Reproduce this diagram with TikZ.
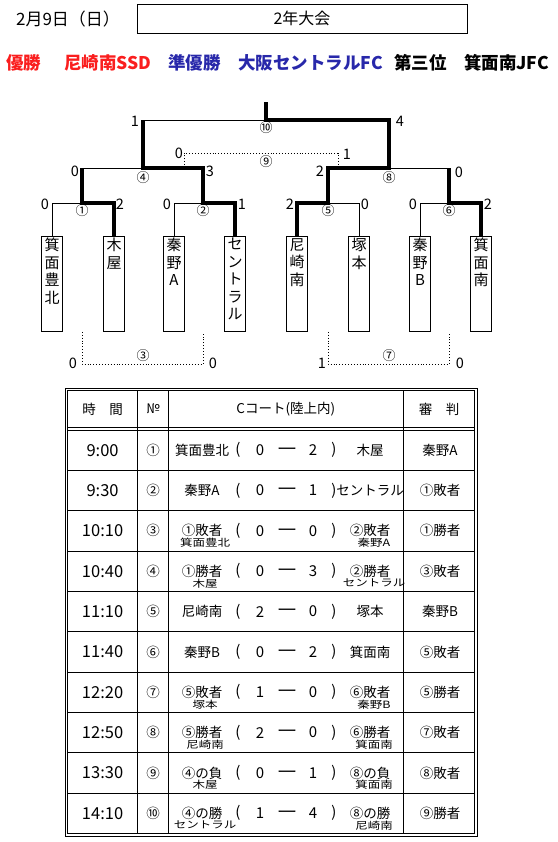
\documentclass[tikz,border=0pt]{standalone}
\usepackage{fontspec}
\setmainfont{Noto Sans CJK JP}
\usetikzlibrary{positioning}
\definecolor{winred}{RGB}{250,30,30}
\definecolor{runnerblue}{RGB}{40,40,170}
\newcommand{\fsz}[1]{\fontsize{#1}{#1}\selectfont}

\begin{document}
\begin{tikzpicture}[x=1pt,y=-1pt,
  score/.style={inner sep=0,font=\fsz{14.5}},
  gameno/.style={inner sep=0,font=\fsz{13}},
  win/.style={line width=4pt},
  lose/.style={line width=0.9pt},
  consol/.style={dotted,line width=0.9pt},
  teambox/.style={draw,line width=0.8pt,minimum width=21pt,minimum height=95pt,anchor=north,inner sep=0},
  teamname/.style={anchor=north,inner sep=0,align=center,font=\fontsize{15}{17.5}\selectfont},
  result/.style={anchor=west,inner sep=0,font=\bfseries\fsz{17.5}},
  cell/.style={inner sep=0,font=\fsz{13.5}},
  goal/.style={inner sep=0,font=\fsz{15}},
  subcell/.style={inner sep=0,font=\fsz{10},xscale=1.25},
  timecell/.style={inner sep=0,font=\fsz{16.5}},
  grid/.style={line width=0.8pt},
]
\useasboundingbox (0,0) rectangle (557,842);

% header
\node[inner sep=0,font=\fsz{17}] (date) at (68,19) {2月9日（日）};
\node[draw,line width=0.8pt,minimum width=330pt,minimum height=29pt,inner sep=0,font=\fsz{16}] (title) at (302,18.5) {2年大会};

% results
\node[result,text=winred] (first) at (6,63) {優勝};
\node[result,text=winred] (firstteam) at (64,63) {尼崎南SSD};
\node[result,text=runnerblue] (second) at (168,63) {準優勝};
\node[result,text=runnerblue] (secondteam) at (238,63) {大阪セントラルFC};
\node[result] (third) at (394,63) {第三位};
\node[result] (thirdteam) at (464,63) {箕面南JFC};

% teams
\foreach \n/\x/\name in {1/52/{箕\\面\\豊\\北},2/114/{木\\屋},3/174/{秦\\野\\A},4/235/{セ\\ン\\ト\\ラ\\ル},
  5/297/{尼\\崎\\南},6/359/{塚\\本},7/420/{秦\\野\\B},8/481/{箕\\面\\南}}{
  \node[teambox] (t\n) at (\x,236) {};
  \node[teamname] (n\n) at ([yshift=-2pt]t\n.north) {\name};
}

% match points
\coordinate (m1) at (82,203);
\coordinate (m2) at (203,203);
\coordinate (m5) at (328,203);
\coordinate (m6) at (449,203);
\coordinate (m4) at (143,168);
\coordinate (m8) at (389,168);
\coordinate (m10) at (266,120);
\coordinate (top) at (266,102);
\coordinate (m9) at (261,153);
\coordinate (m9a) at (184,168);
\coordinate (m9b) at (338,168);
\coordinate (m3) at (143,364);
\coordinate (m7) at (389,364);

% bracket
\draw[lose] (t1.north) |- (m1);
\draw[win] (t2.north) |- (m1) -- (m1 |- m4);
\draw[lose] (m1 |- m4) -- (m4);
\draw[lose] (t3.north) |- (m2);
\draw[win] (t4.north) |- (m2) |- (m4) -- (m4 |- m10);
\draw[lose] (m4 |- m10) -- (m10);
\draw[win] (t5.north) |- (m5) |- (m8) |- (m10) -- (top);
\draw[lose] (t6.north) |- (m5);
\draw[lose] (t7.north) |- (m6);
\draw[win] (t8.north) |- (m6) -- (m6 |- m8);
\draw[lose] (m6 |- m8) -- (m8);

% consolation games
\draw[consol] (m9a) |- (m9) -| (m9b);
\draw[consol] (m1 |- t1.south) |- (m3) -| (m2 |- t3.south);
\draw[consol] (m5 |- t5.south) |- (m7) -| (m6 |- t7.south);

% game numbers
\node[gameno] (g1) at (82,211) {①};
\node[gameno] (g2) at (203,211) {②};
\node[gameno] (g5) at (328,211) {⑤};
\node[gameno] (g6) at (449,211) {⑥};
\node[gameno] (g4) at (143,178) {④};
\node[gameno] (g8) at (389,178) {⑧};
\node[gameno] (g9) at (266,162) {⑨};
\node[gameno] (g10) at (266,128) {⑩};
\node[gameno] (g3) at (143,356) {③};
\node[gameno] (g7) at (389,356) {⑦};

% scores
\node[score] (s1l) at (45,204) {0};
\node[score] (s1r) at (120,204) {2};
\node[score] (s2l) at (167,204) {0};
\node[score] (s2r) at (242,204) {1};
\node[score] (s5l) at (290,204) {2};
\node[score] (s5r) at (365,204) {0};
\node[score] (s6l) at (413,204) {0};
\node[score] (s6r) at (488,204) {2};
\node[score] (s4l) at (75,171) {0};
\node[score] (s4r) at (210,171) {3};
\node[score] (s8l) at (320,171) {2};
\node[score] (s8r) at (459,172) {0};
\node[score] (s9l) at (179,153) {0};
\node[score] (s9r) at (347,154) {1};
\node[score] (s10l) at (135,121) {1};
\node[score] (s10r) at (400,121) {4};
\node[score] (s3l) at (73,363) {0};
\node[score] (s3r) at (213,363) {0};
\node[score] (s7l) at (322,363) {1};
\node[score] (s7r) at (460,363) {0};

% table
\draw[grid] (65,388) rectangle (477,836);
\draw[grid] (67.5,390.5) rectangle (474.5,833.5);
\draw[grid] (67.5,427.5) -- (474.5,427.5);
\foreach \r in {0,...,9}
  \draw[grid] (67.5,430+40.35*\r) -- (474.5,430+40.35*\r);
\foreach \cx in {137.7,168.3,403.3}
  \draw[grid] (\cx,390.5) -- (\cx,833.5);

\node[cell] (hdtime) at (102.6,409) {時　間};
\node[cell] (hdno) at (153,409) {№};
\node[cell] (hdcourt) at (285.8,409) {Cコート(陸上内)};
\node[cell] (hdref) at (439,409) {審　判};

\foreach \r/\gtime/\gno/\lname/\lsub/\ga/\gb/\rname/\rsub/\refe in {
  1/9:00/①/箕面豊北/{}/0/2/木屋/{}/秦野A,
  2/9:30/②/秦野A/{}/0/1/セントラル/{}/①敗者,
  3/10:10/③/①敗者/箕面豊北/0/0/②敗者/秦野A/①勝者,
  4/10:40/④/①勝者/木屋/0/3/②勝者/セントラル/③敗者,
  5/11:10/⑤/尼崎南/{}/2/0/塚本/{}/秦野B,
  6/11:40/⑥/秦野B/{}/0/2/箕面南/{}/⑤敗者,
  7/12:20/⑦/⑤敗者/塚本/1/0/⑥敗者/秦野B/⑤勝者,
  8/12:50/⑧/⑤勝者/尼崎南/2/0/⑥勝者/箕面南/⑦敗者,
  9/13:30/⑨/④の負/木屋/0/1/⑧の負/箕面南/⑧敗者,
  10/14:10/⑩/④の勝/セントラル/1/4/⑧の勝/尼崎南/⑨勝者}{
  \pgfmathsetmacro\cy{409.8+40.35*\r}
  \node[timecell] (tm\r) at (102.6,\cy) {\gtime};
  \node[cell] (no\r) at (153,\cy) {\gno};
  \node[cell] (lt\r) at (202,\cy) {\lname};
  \node[subcell] (ls\r) at (205,\cy+12) {\lsub};
  \node[goal] (lp\r) at (238,\cy) {(};
  \node[goal] (ga\r) at (260,\cy) {\ga};
  \node[goal,xscale=1.4] (da\r) at (287,\cy+1) {ー};
  \node[goal] (gb\r) at (313,\cy) {\gb};
  \node[goal] (rp\r) at (334,\cy) {)};
  \node[cell] (rt\r) at (370,\cy) {\rname};
  \node[subcell] (rs\r) at (374,\cy+12) {\rsub};
  \node[cell] (rf\r) at (440,\cy) {\refe};
}
\end{tikzpicture}
\end{document}
